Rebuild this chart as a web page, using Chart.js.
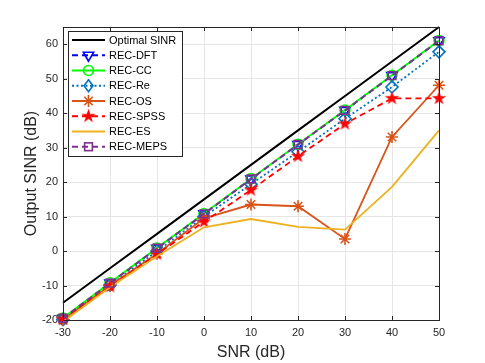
<!DOCTYPE html>
<html><head><meta charset="utf-8">
<script src="https://cdn.jsdelivr.net/npm/chart.js@4/dist/chart.umd.min.js"></script>
<style>html,body{margin:0;padding:0;background:#fff}#wrap{width:485px;height:363px}</style>
</head><body><div id="wrap"><canvas id="c" width="485" height="363"></canvas></div>
<script>
const snr = [-30,-20,-10,0,10,20,30,40,50];
const optimal = [-15,-5,5,15,25,35,45,55,65];
const recDFT = [-19.5,-9.3,0.8,10.8,20.9,30.9,40.8,50.9,61.0];
const recCC = [-19.4,-9.2,0.9,10.9,21.0,31.0,40.9,51.0,61.1];
const recRe = [-19.9,-9.9,0.0,10.0,19.4,28.8,38.4,47.6,57.8];
const recOS = [-20.0,-10.0,-0.8,9.5,13.5,13.0,3.5,33.1,48.1];
const recSPSS = [-19.8,-10.3,-0.9,8.5,17.7,27.5,36.9,44.3,44.3];
const recES = [-20.5,-10.5,-1.5,6.9,9.3,7.0,6.2,18.6,35.0];
const recMEPS = [-19.5,-9.3,0.8,10.8,20.9,30.9,40.8,50.9,61.0];
const seriesNames = ['Optimal SINR','REC-DFT','REC-CC','REC-Re','REC-OS','REC-SPSS','REC-ES','REC-MEPS'];
const xTicks = [-30,-20,-10,0,10,20,30,40,50];
const yTicks = [-20,-10,0,10,20,30,40,50,60];

function pentagram(color, r){
  const s = Math.ceil(r*2+2);
  const c = document.createElement('canvas'); c.width = s; c.height = s;
  const g = c.getContext('2d');
  g.fillStyle = color; g.beginPath();
  const ri = r*0.382;
  for(let i=0;i<10;i++){
    const rr = i%2===0 ? r : ri;
    const a = -Math.PI/2 + i*Math.PI/5;
    const px = s/2 + rr*Math.cos(a), py = s/2 + rr*Math.sin(a);
    if(i===0) g.moveTo(px,py); else g.lineTo(px,py);
  }
  g.closePath(); g.fill();
  return c;
}
const starImg = pentagram('#FF0000', 7.5);

const defs = [
  {data: optimal, color:'#000000', dash:[], ps:false, w:2},
  {data: recDFT, color:'#0000FF', dash:[6,4], ps:'triangle', rot:180, r:6, w:1.8},
  {data: recCC, color:'#00FF00', dash:[], ps:'circle', r:5, w:1.8},
  {data: recRe, color:'#0072BD', dash:[2,2.5], ps:'rectRot', r:6, w:1.8},
  {data: recOS, color:'#D95319', dash:[], ps:'star', r:6, w:1.8},
  {data: recSPSS, color:'#FF0000', dash:[6,4], ps:starImg, r:7, w:1.8},
  {data: recES, color:'#EDB120', dash:[], ps:false, w:1.8},
  {data: recMEPS, color:'#7E2F8E', dash:[6,4], ps:'rect', r:5.5, w:1.8}
];

const datasets = defs.map((d,i)=>({
  label: seriesNames[i],
  data: snr.map((x,k)=>({x:x, y:d.data[k]})),
  borderColor: d.color,
  backgroundColor: d.color,
  borderWidth: d.w,
  borderDash: d.dash,
  pointStyle: d.ps,
  pointRadius: d.ps ? d.r : 0,
  pointRotation: d.rot || 0,
  pointBorderColor: d.color,
  pointBackgroundColor: 'rgba(0,0,0,0)',
  pointBorderWidth: 1.6,
  pointHoverRadius: d.ps ? d.r : 0,
  tension: 0,
  clip: false,
  order: -i
}));

function drawMarker(ctx, d, x, y){
  ctx.save();
  ctx.setLineDash([]);
  ctx.strokeStyle = d.color; ctx.lineWidth = 1.6;
  const r = d.r;
  if(d.ps === 'triangle'){
    ctx.beginPath(); ctx.moveTo(x, y + r); ctx.lineTo(x - r*0.866, y - r/2); ctx.lineTo(x + r*0.866, y - r/2); ctx.closePath(); ctx.stroke();
  } else if(d.ps === 'circle'){
    ctx.beginPath(); ctx.arc(x,y,r,0,Math.PI*2); ctx.stroke();
  } else if(d.ps === 'rectRot'){
    ctx.beginPath(); ctx.moveTo(x, y-r); ctx.lineTo(x+r*0.75,y); ctx.lineTo(x,y+r); ctx.lineTo(x-r*0.75,y); ctx.closePath(); ctx.stroke();
  } else if(d.ps === 'star'){
    ctx.beginPath();
    for(let k=0;k<4;k++){const a=k*Math.PI/4; ctx.moveTo(x-r*Math.cos(a),y-r*Math.sin(a)); ctx.lineTo(x+r*Math.cos(a),y+r*Math.sin(a));}
    ctx.stroke();
  } else if(d.ps === 'rect'){
    const s = r*Math.SQRT1_2; ctx.strokeRect(x-s,y-s,2*s,2*s);
  } else if(d.ps){
    ctx.drawImage(d.ps, x - d.ps.width/2, y - d.ps.height/2);
  }
  ctx.restore();
}

const framePlugin = {
  id:'frame',
  afterDatasetsDraw(chart){
    const ctx = chart.ctx, a = chart.chartArea;
    const xs = chart.scales.x, ys = chart.scales.y;
    ctx.save();
    ctx.strokeStyle = '#262626'; ctx.lineWidth = 1; ctx.setLineDash([]);
    ctx.strokeRect(Math.round(a.left)+0.5, Math.round(a.top)+0.5, Math.round(a.right-a.left), Math.round(a.bottom-a.top));
    ctx.beginPath();
    const tl = 4;
    xTicks.forEach(v=>{const px=Math.round(xs.getPixelForValue(v))+0.5; ctx.moveTo(px,a.bottom); ctx.lineTo(px,a.bottom-tl); ctx.moveTo(px,a.top); ctx.lineTo(px,a.top+tl);});
    yTicks.forEach(v=>{const py=Math.round(ys.getPixelForValue(v))+0.5; ctx.moveTo(a.left,py); ctx.lineTo(a.left+tl,py); ctx.moveTo(a.right,py); ctx.lineTo(a.right-tl,py);});
    ctx.stroke();
    // legend
    const lx=68, ly=31, lw=114, lh=125;
    ctx.fillStyle='#fff'; ctx.fillRect(lx,ly,lw,lh);
    ctx.strokeStyle='#262626'; ctx.strokeRect(lx+0.5,ly+0.5,lw,lh);
    ctx.font='11px "Liberation Sans", Arial, sans-serif'; ctx.textBaseline='middle'; ctx.fillStyle='#000';
    defs.forEach((d,i)=>{
      const y = 40 + i*15.25;
      ctx.save();
      ctx.strokeStyle=d.color; ctx.lineWidth=d.w; ctx.setLineDash(d.dash);
      ctx.beginPath(); ctx.moveTo(72,y); ctx.lineTo(105,y); ctx.stroke();
      ctx.restore();
      if(d.ps){ drawMarker(ctx,d,88.5,y); }
      ctx.fillStyle='#000';
      ctx.fillText(seriesNames[i], 109, y+0.5);
    });
    ctx.restore();
  }
};

new Chart(document.getElementById('c'), {
  type:'line',
  data:{datasets},
  options:{
    responsive:false, animation:false, devicePixelRatio:1,
    layout:{padding:{top:27,right:46,left:0,bottom:0}},
    plugins:{legend:{display:false}, tooltip:{enabled:false}},
    scales:{
      x:{type:'linear', min:-30, max:50,
        afterBuildTicks(s){ s.ticks = xTicks.map(v=>({value:v})); },
        afterFit(s){ s.height = 43; },
        ticks:{color:'#262626', font:{family:'"Liberation Sans", Arial, sans-serif', size:11}, padding:6, maxRotation:0},
        grid:{color:'#e6e6e6', drawTicks:false, lineWidth:1},
        border:{display:false},
        title:{display:true, text:'SNR (dB)', color:'#262626', font:{family:'"Liberation Sans", Arial, sans-serif', size:16}, padding:{top:0,bottom:0.5}}
      },
      y:{type:'linear', min:-20, max:65,
        afterBuildTicks(s){ s.ticks = yTicks.map(v=>({value:v})); },
        afterFit(s){ s.width = 63; },
        ticks:{color:'#262626', font:{family:'"Liberation Sans", Arial, sans-serif', size:11}, padding:5},
        grid:{color:'#e6e6e6', drawTicks:false, lineWidth:1},
        border:{display:false},
        title:{display:true, text:'Output SINR (dB)', color:'#262626', font:{family:'"Liberation Sans", Arial, sans-serif', size:16}, padding:{top:22,bottom:0}}
      }
    }
  },
  plugins:[framePlugin]
});
</script></body></html>
